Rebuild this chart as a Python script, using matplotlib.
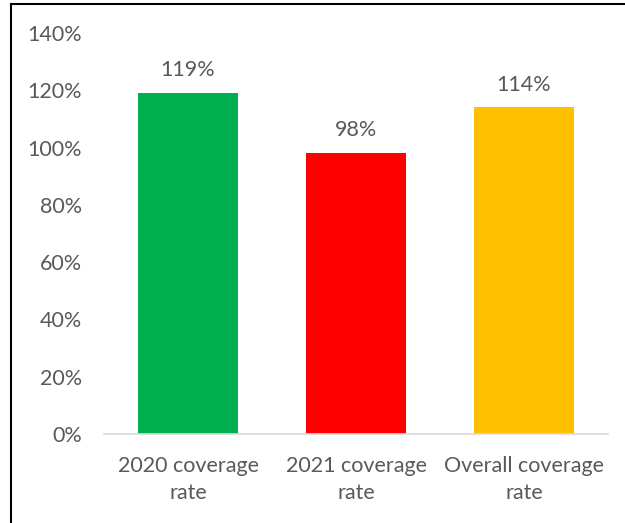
import matplotlib.pyplot as plt
from matplotlib.patches import Rectangle

categories = ['2020 coverage\nrate', '2021 coverage\nrate', 'Overall coverage\nrate']
values = [119, 98, 114]
colors = ['#00B050', '#FF0000', '#FFC000']
yticks = [0, 20, 40, 60, 80, 100, 120, 140]

plt.rcParams['font.family'] = ['Lato', 'DejaVu Sans']
text_color = '#595959'
fs = 15.5

fig = plt.figure(figsize=(6.25, 5.23), dpi=100)
ax = fig.add_axes([104 / 625, 89 / 523, 504 / 625, 401 / 523])

x = range(len(categories))
bars = ax.bar(x, values, width=0.6, color=colors)
for bar, v in zip(bars, values):
    ax.text(bar.get_x() + bar.get_width() / 2, v + 4.5, f'{v}%',
            ha='center', va='bottom', fontsize=fs, color=text_color)

ax.set_xlim(-0.5, 2.5)
ax.set_ylim(0, 140)
ax.set_yticks(yticks)
ax.set_yticklabels([f'{t}%' for t in yticks], fontsize=fs, color=text_color)
ax.set_xticks(list(x))
ax.set_xticklabels(categories, fontsize=fs, color=text_color, linespacing=1.4)
ax.tick_params(axis='both', length=0)
ax.tick_params(axis='y', pad=16)
ax.tick_params(axis='x', pad=16)

for side in ['top', 'right', 'left']:
    ax.spines[side].set_visible(False)
ax.spines['bottom'].set_color('#D9D9D9')
ax.spines['bottom'].set_linewidth(1.2)

# chart border
fig.patches.append(Rectangle((11 / 625, -0.05), 1.0, 1.05 - 4 / 523,
                             transform=fig.transFigure, fill=False,
                             edgecolor='black', linewidth=1.5))

fig.savefig('out.png', dpi=100)
